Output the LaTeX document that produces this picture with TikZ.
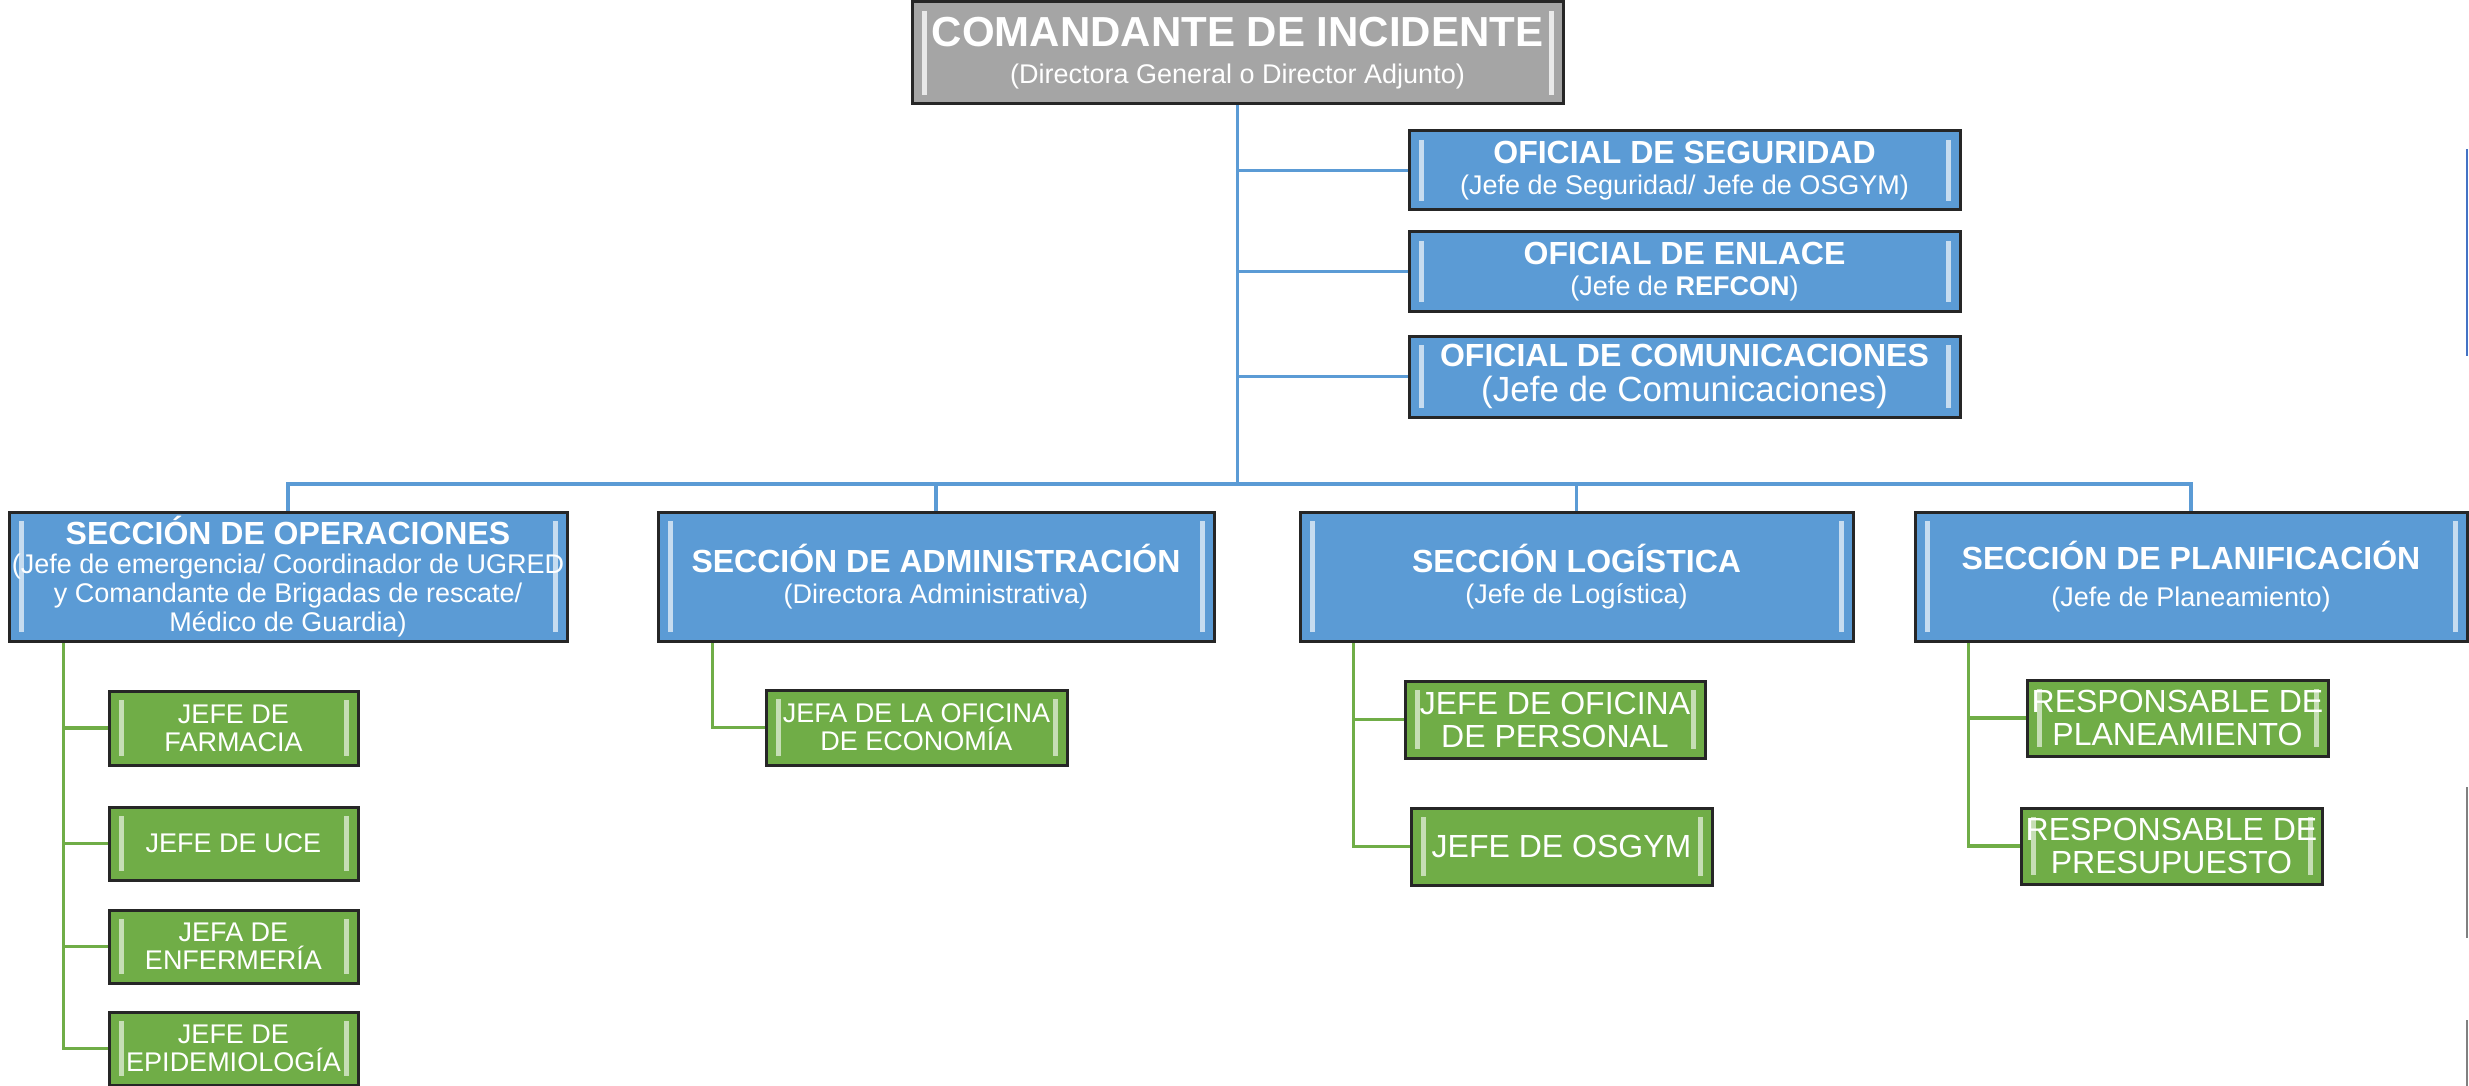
\documentclass[tikz,border=0pt]{standalone}
\usepackage{fontspec}
\setmainfont{Liberation Sans}
\usepackage{tikz}
\usetikzlibrary{backgrounds}
\definecolor{azul}{HTML}{5B9BD5}
\definecolor{azulosc}{HTML}{4472C4}
\definecolor{verde}{HTML}{70AD47}
\definecolor{gris}{HTML}{A5A5A5}
\tikzset{bevel/.style={path picture={
  \draw[line width=5pt, #1] ([xshift=12pt,yshift=-9pt]path picture bounding box.north west) -- ([xshift=12pt,yshift=9pt]path picture bounding box.south west);
  \draw[line width=5pt, #1] ([xshift=-12pt,yshift=-9pt]path picture bounding box.north east) -- ([xshift=-12pt,yshift=9pt]path picture bounding box.south east);
}}}
\newcommand{\tamtit}{\fontsize{32}{31}\selectfont\bfseries}
\newcommand{\tamsub}{\fontsize{27}{31}\selectfont}
\newcommand{\tamverde}{\fontsize{27}{28}\selectfont}
\newcommand{\tamgrande}{\fontsize{32}{33}\selectfont}
\tikzstyle{box}=[rectangle, inner sep=0pt, line width=3pt, draw=black!85, text=white, align=center, anchor=center]
\tikzstyle{grisbox}=[box, fill=gris, bevel=white!75!gris]
\tikzstyle{azulbox}=[box, fill=azul, bevel=white!65!azul, minimum width=553pt, minimum height=129pt, font=\tamsub]
\tikzstyle{ofibox}=[box, fill=azul, bevel=white!65!azul, minimum width=551pt, minimum height=79pt, font=\tamsub]
\tikzstyle{verdebox}=[box, fill=verde, bevel=white!60!verde, minimum width=301pt, minimum height=76pt, font=\tamverde]
\tikzstyle{azulline}=[draw=azul, line width=3.5pt]
\tikzstyle{verdeline}=[draw=verde, line width=3.5pt]

\begin{document}
\begin{tikzpicture}[x=1pt, y=-1pt]
	\useasboundingbox (0,0) rectangle (2469,1086);

	\node[grisbox, minimum width=651pt, minimum height=102pt, font=\fontsize{27}{37}\selectfont](cmd) at (1237.5,53){{\fontsize{42}{37}\selectfont\bfseries COMANDANTE DE INCIDENTE}\\(Directora General o Director Adjunto)};

	% oficiales
	\node[ofibox](seg) at (1684.5,170.5){{\tamtit OFICIAL DE SEGURIDAD}\\(Jefe de Seguridad/ Jefe de OSGYM)};
	\node[ofibox](enl) at (1684.5,271.5){{\tamtit OFICIAL DE ENLACE}\\(Jefe de \textbf{REFCON})};
	\node[ofibox, minimum height=81pt, font=\fontsize{35}{35}\selectfont](com) at (1684.5,376.5){{\tamtit OFICIAL DE COMUNICACIONES}\\(Jefe de Comunicaciones)};

	% secciones
	\node[azulbox, minimum width=558pt, font=\fontsize{27}{29}\selectfont](ops) at (288,576.5){{\tamtit SECCIÓN DE OPERACIONES}\\(Jefe de emergencia/ Coordinador de UGRED\\y Comandante de Brigadas de rescate/\\Médico de Guardia)};
	\node[azulbox, minimum width=556pt](adm) at (936,576.5){{\tamtit SECCIÓN DE ADMINISTRACIÓN}\\(Directora Administrativa)};
	\node[azulbox](log) at (1576.5,576.5){{\tamtit SECCIÓN LOGÍSTICA}\\(Jefe de Logística)};
	\node[azulbox, minimum width=552pt](plan) at (2191,576.5){{\tamtit SECCIÓN DE PLANIFICACIÓN}\\[6pt](Jefe de Planeamiento)};

	% jefaturas
	\node[verdebox, minimum width=249pt, minimum height=74pt](farm) at (233.5,728){JEFE DE\\FARMACIA};
	\node[verdebox, minimum width=249pt, minimum height=73pt](uce) at (233.5,843.5){JEFE DE UCE};
	\node[verdebox, minimum width=249pt, minimum height=73pt](enf) at (233.5,946.5){JEFA DE\\ENFERMERÍA};
	\node[verdebox, minimum width=249pt, minimum height=73pt](epi) at (233.5,1048.5){JEFE DE\\EPIDEMIOLOGÍA};
	\node[verdebox, minimum height=75pt](eco) at (916.5,727.5){JEFA DE LA OFICINA\\DE ECONOMÍA};
	\node[verdebox, minimum width=300pt, minimum height=77pt, font=\tamgrande](per) at (1555,719.5){JEFE DE OFICINA\\DE PERSONAL};
	\node[verdebox, minimum height=77pt, font=\tamgrande](osg) at (1561.5,846.5){JEFE DE OSGYM};
	\node[verdebox, font=\tamgrande](rpl) at (2177.5,718){RESPONSABLE DE\\PLANEAMIENTO};
	\node[verdebox, font=\tamgrande](rpr) at (2171.5,846){RESPONSABLE DE\\PRESUPUESTO};

	\begin{scope}[on background layer]
	\coordinate (bus) at (1237.5,484);
	\draw[azulline] (cmd.south) -- (bus);
	\foreach \o in {seg,enl,com}
		\draw[azulline] (cmd.south |- \o.west) -- (\o.west);
	\draw[azulline] (ops.north) |- (bus) -| (plan.north);
	\foreach \s in {adm,log}
		\draw[azulline] (\s.north) -- (\s.north |- bus);

	\foreach \h in {farm,uce,enf,epi}
		\draw[verdeline] ([xshift=56pt]ops.south west) |- (\h.west);
	\draw[verdeline] ([xshift=56pt]adm.south west) |- (eco.west);
	\foreach \h in {per,osg}
		\draw[verdeline] ([xshift=55pt]log.south west) |- (\h.west);
	\foreach \h in {rpl,rpr}
		\draw[verdeline] ([xshift=55pt]plan.south west) |- (\h.west);
	\end{scope}

	% trazos al borde derecho
	\draw[azulosc, line width=2pt] (2467,149) -- (2467,356);
	\draw[gray, line width=1.5pt] (2467,787) -- (2467,938);
	\draw[gray, line width=1.5pt] (2467,1020) -- (2467,1086);
\end{tikzpicture}
\end{document}
